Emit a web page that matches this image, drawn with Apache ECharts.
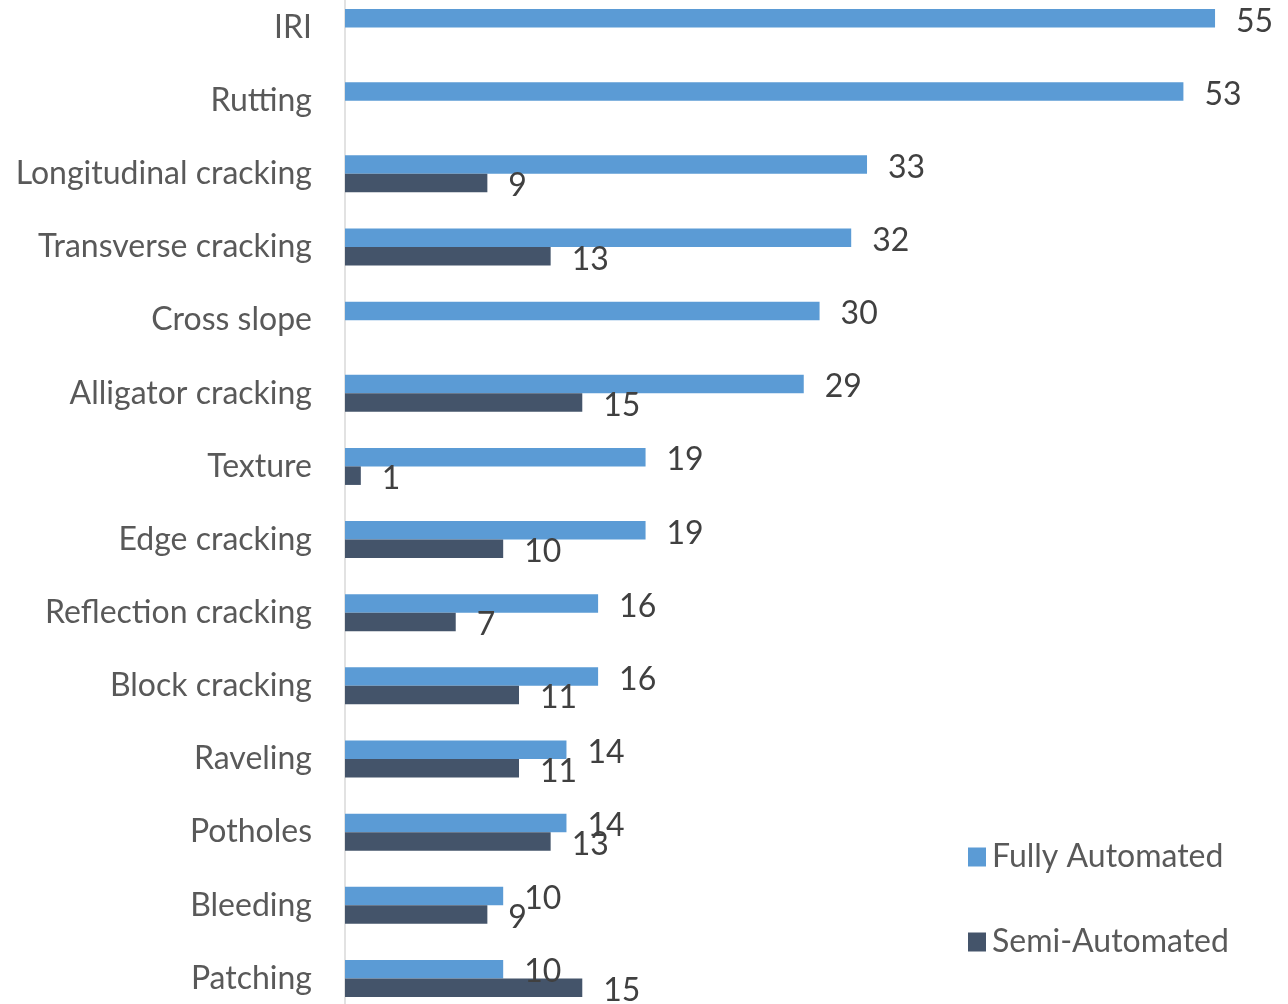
<!DOCTYPE html>
<html>
<head>
<meta charset="utf-8">
<script src="https://cdn.jsdelivr.net/npm/echarts@6/dist/echarts.min.js"></script>
<style>
  html, body { margin: 0; padding: 0; background: #ffffff; }
  #chart { width: 1288px; height: 1004px; }
</style>
</head>
<body>
<div id="chart"></div>
<script>
// Pavement condition metrics and how many agencies collect each one
const categories = [
  'IRI', 'Rutting', 'Longitudinal cracking', 'Transverse cracking', 'Cross slope',
  'Alligator cracking', 'Texture', 'Edge cracking', 'Reflection cracking',
  'Block cracking', 'Raveling', 'Potholes', 'Bleeding', 'Patching'
];
const fullyAutomated = [55, 53, 33, 32, 30, 29, 19, 19, 16, 16, 14, 14, 10, 10];
const semiAutomated  = [null, null, 9, 13, null, 15, 1, 10, 7, 11, 11, 13, 9, 15];
const seriesNames = ['Fully Automated', 'Semi-Automated'];

const FONT = 'Lato, "Open Sans", sans-serif';
const FONT_SIZE = 32;
const labelStyle = {
  show: true,
  position: 'right',
  distance: 21,
  offset: [0, 3],
  color: '#404040',
  fontFamily: FONT,
  fontSize: FONT_SIZE
};

const chart = echarts.init(document.getElementById('chart'), null, { renderer: 'canvas' });
chart.setOption({
  animation: false,
  backgroundColor: '#ffffff',
  grid: {
    left: 345, top: -9, width: 917.5, height: 1024,
    containLabel: false,
    outerBoundsMode: 'none'
  },
  legend: {
    orient: 'vertical',
    left: 963,
    top: 836,
    itemWidth: 18,
    itemHeight: 19,
    itemGap: 53,
    icon: 'rect',
    textStyle: { color: '#595959', fontFamily: FONT, fontSize: FONT_SIZE, padding: [0, 0, 0, 1] },
    data: seriesNames
  },
  xAxis: {
    type: 'value',
    min: 0,
    max: 58,
    show: false
  },
  yAxis: {
    type: 'category',
    inverse: true,
    data: categories,
    axisLine: { show: true, lineStyle: { color: '#D9D9D9', width: 1.5 } },
    axisTick: { show: false },
    axisLabel: { color: '#595959', fontFamily: FONT, fontSize: FONT_SIZE, margin: 33 }
  },
  series: [
    {
      name: seriesNames[0],
      type: 'bar',
      data: fullyAutomated,
      barWidth: 18.5,
      barGap: '0%',
      itemStyle: { color: '#5B9BD5' },
      label: labelStyle
    },
    {
      name: seriesNames[1],
      type: 'bar',
      data: semiAutomated,
      barWidth: 18.5,
      barGap: '0%',
      itemStyle: { color: '#44546A' },
      label: labelStyle
    }
  ]
});
</script>
</body>
</html>
